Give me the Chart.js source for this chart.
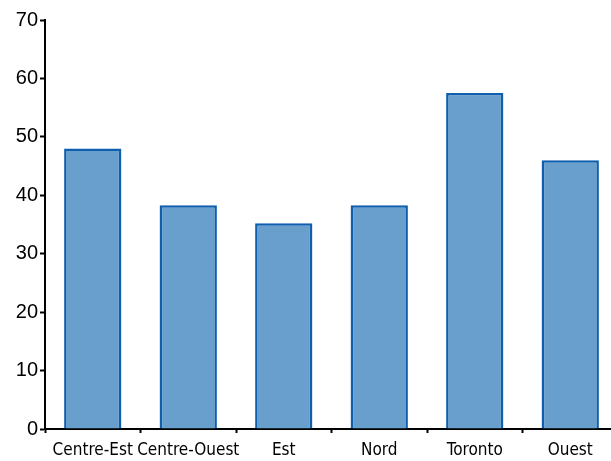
<!DOCTYPE html>
<html>
<head>
<meta charset="utf-8">
<script src="https://cdn.jsdelivr.net/npm/chart.js@4"></script>
<style>
  html, body { margin: 0; padding: 0; background: #fff; overflow: hidden; }
  #wrap { width: 611px; height: 461px; overflow: hidden; }
</style>
</head>
<body>
<div id="wrap"><canvas id="barChart" width="618" height="461"></canvas></div>
<script>
let regions = ["Centre-Est", "Centre-Ouest", "Est", "Nord", "Toronto", "Ouest"]
let values = [48, 38.3, 35.2, 38.3, 57.5, 46]
let yTicks = [0, 10, 20, 30, 40, 50, 60, 70]

const ctx = document.getElementById('barChart').getContext("2d");

var myChart = new Chart(ctx, {
  type: 'bar',
  data: {
    labels: regions,
    datasets: [{
      data: values,
      backgroundColor: '#689fcc',
      borderColor: '#0f5fae',
      borderWidth: 2.5,
      barPercentage: 0.6,
      categoryPercentage: 1
    }]
  },
  options: {
    responsive: false,
    animation: false,
    layout: { padding: { top: 20, right: 0, left: 0, bottom: 0 } },
    plugins: { legend: { display: false }, tooltip: { enabled: false } },
    scales: {
      x: {
        grid: { offset: true, drawOnChartArea: false, tickLength: 4, tickColor: 'black', tickWidth: 2 },
        border: { color: 'black', width: 2 },
        ticks: { color: 'black', padding: 7, maxRotation: 0, autoSkip: false,
          font: { family: "'DejaVu Sans Condensed', 'Liberation Sans', sans-serif", size: 17 } },
        afterFit: function(axis) { axis.height = 32 }
      },
      y: {
        min: yTicks[0],
        max: yTicks[yTicks.length - 1],
        ticks: { stepSize: 10, color: 'black', padding: 2,
          font: { family: "'Liberation Sans', Arial, sans-serif", size: 20 } },
        grid: { drawOnChartArea: false, tickLength: 5, tickColor: 'black', tickWidth: 2 },
        border: { color: 'black', width: 2 },
        afterFit: function(axis) { axis.width = 45 }
      }
    }
  }
});
</script>
</body>
</html>
